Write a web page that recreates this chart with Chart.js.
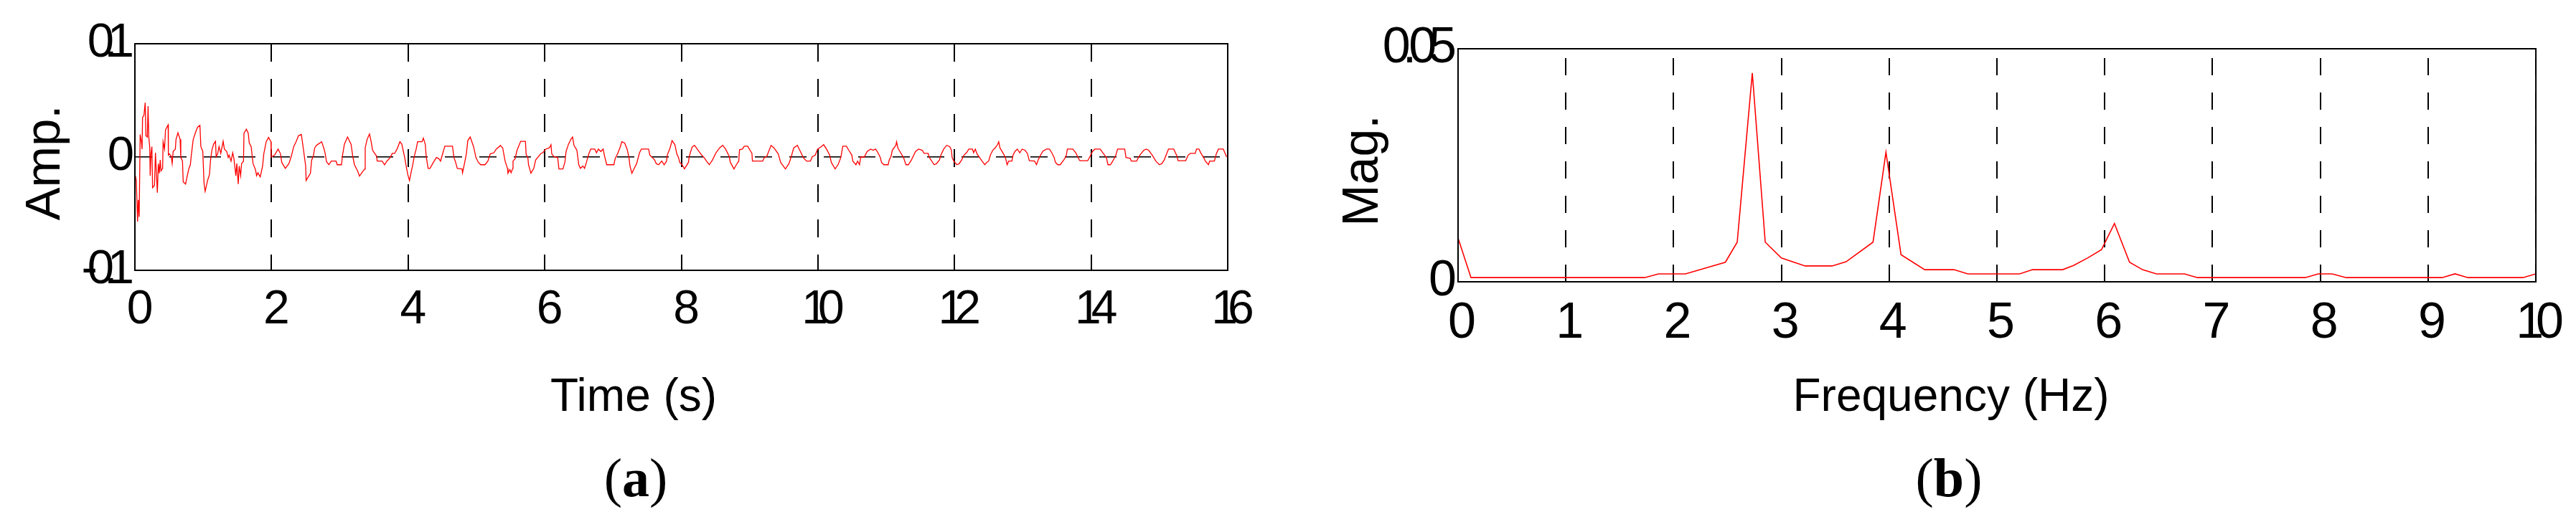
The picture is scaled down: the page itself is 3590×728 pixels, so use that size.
<!DOCTYPE html>
<html>
<head>
<meta charset="utf-8">
<script src="https://cdn.jsdelivr.net/npm/chart.js@4/dist/chart.umd.min.js"></script>
<style>
  html, body { margin: 0; padding: 0; background: #fff; overflow: hidden; }
  #wrap { position: relative; width: 3590px; height: 728px; }
  canvas { position: absolute; top: 0; }
  #chartA { left: 0; }
  #chartB { left: 1795px; }
</style>
</head>
<body>
<div id="wrap">
  <canvas id="chartA" width="1795" height="728"></canvas>
  <canvas id="chartB" width="1795" height="728"></canvas>
</div>
<script>
// (a) time response
const timeSec = [
  0.007, 0.021, 0.039, 0.049, 0.063, 0.077, 0.095, 0.105, 0.112, 0.133, 0.151, 0.161, 0.182, 0.193, 0.203, 0.217,
  0.224, 0.235, 0.249, 0.259, 0.287, 0.301, 0.315, 0.329, 0.343, 0.357, 0.371, 0.382, 0.406, 0.413, 0.434, 0.448,
  0.487, 0.490, 0.504, 0.532, 0.546, 0.560, 0.592, 0.602, 0.630, 0.662, 0.672, 0.697, 0.707, 0.742, 0.767, 0.791,
  0.812, 0.826, 0.854, 0.889, 0.917, 0.952, 0.966, 0.994, 1.012, 1.029, 1.064, 1.092, 1.106, 1.127, 1.152, 1.180,
  1.190, 1.211, 1.232, 1.257, 1.292, 1.310, 1.345, 1.366, 1.380, 1.408, 1.432, 1.450, 1.478, 1.492, 1.513, 1.527,
  1.548, 1.562, 1.590, 1.597, 1.632, 1.660, 1.674, 1.702, 1.730, 1.765, 1.782, 1.800, 1.835, 1.870, 1.887, 1.922,
  1.957, 1.992, 1.996, 2.045, 2.097, 2.132, 2.150, 2.202, 2.255, 2.290, 2.325, 2.360, 2.395, 2.437, 2.472, 2.500,
  2.507, 2.570, 2.588, 2.612, 2.633, 2.658, 2.682, 2.735, 2.770, 2.787, 2.805, 2.840, 2.875, 2.945, 2.962, 3.025,
  3.039, 3.067, 3.113, 3.165, 3.190, 3.214, 3.260, 3.288, 3.330, 3.365, 3.372, 3.400, 3.435, 3.459, 3.480, 3.540,
  3.547, 3.620, 3.655, 3.690, 3.739, 3.768, 3.803, 3.838, 3.880, 3.908, 3.950, 3.978, 3.995, 4.020, 4.048, 4.065,
  4.090, 4.118, 4.139, 4.205, 4.223, 4.251, 4.265, 4.293, 4.321, 4.370, 4.415, 4.450, 4.475, 4.503, 4.538, 4.650,
  4.671, 4.696, 4.720, 4.790, 4.797, 4.825, 4.853, 4.874, 4.909, 4.958, 4.993, 5.028, 5.063, 5.126, 5.168, 5.203,
  5.256, 5.291, 5.343, 5.350, 5.385, 5.420, 5.455, 5.462, 5.490, 5.508, 5.532, 5.536, 5.567, 5.595, 5.648, 5.718,
  5.728, 5.753, 5.763, 5.798, 5.840, 5.868, 5.910, 5.945, 5.973, 6.015, 6.068, 6.092, 6.103, 6.138, 6.190, 6.208,
  6.267, 6.295, 6.313, 6.348, 6.383, 6.408, 6.429, 6.471, 6.499, 6.523, 6.558, 6.583, 6.611, 6.646, 6.674, 6.733,
  6.758, 6.786, 6.821, 6.856, 6.873, 6.908, 7.013, 7.031, 7.066, 7.101, 7.129, 7.171, 7.206, 7.234, 7.248, 7.276,
  7.311, 7.346, 7.388, 7.416, 7.521, 7.539, 7.574, 7.609, 7.633, 7.668, 7.714, 7.749, 7.784, 7.794, 7.836, 7.864,
  7.906, 7.934, 7.959, 7.976, 8.011, 8.046, 8.105, 8.116, 8.158, 8.193, 8.246, 8.298, 8.333, 8.368, 8.410, 8.456,
  8.508, 8.561, 8.606, 8.648, 8.701, 8.718, 8.771, 8.806, 8.841, 8.852, 8.894, 8.922, 8.971, 9.006, 9.034, 9.041,
  9.191, 9.216, 9.251, 9.314, 9.356, 9.419, 9.454, 9.524, 9.576, 9.611, 9.646, 9.699, 9.734, 9.786, 9.832, 9.891,
  9.916, 9.961, 9.996, 10.049, 10.084, 10.126, 10.172, 10.196, 10.252, 10.294, 10.336, 10.364, 10.417, 10.452, 10.497, 10.511,
  10.557, 10.581, 10.609, 10.627, 10.679, 10.721, 10.774, 10.809, 10.844, 10.879, 10.914, 10.931, 10.966, 11.029, 11.043, 11.071,
  11.089, 11.141, 11.152, 11.170, 11.211, 11.253, 11.289, 11.324, 11.369, 11.404, 11.429, 11.474, 11.527, 11.555, 11.614, 11.632,
  11.702, 11.737, 11.779, 11.800, 11.842, 11.884, 11.930, 11.954, 11.965, 11.989, 12.034, 12.069, 12.104, 12.139, 12.175, 12.210,
  12.262, 12.280, 12.304, 12.332, 12.367, 12.402, 12.444, 12.472, 12.500, 12.525, 12.560, 12.595, 12.630, 12.647, 12.665, 12.717,
  12.745, 12.770, 12.794, 12.840, 12.857, 12.885, 12.920, 12.955, 12.990, 13.032, 13.067, 13.095, 13.172, 13.200, 13.225, 13.260,
  13.295, 13.347, 13.389, 13.424, 13.459, 13.477, 13.512, 13.547, 13.599, 13.634, 13.652, 13.732, 13.775, 13.827, 13.838, 13.950,
  13.985, 14.020, 14.055, 14.132, 14.177, 14.223, 14.247, 14.282, 14.317, 14.363, 14.387, 14.492, 14.510, 14.573, 14.587, 14.667,
  14.692, 14.727, 14.772, 14.807, 14.842, 14.895, 14.947, 15.000, 15.035, 15.070, 15.105, 15.133, 15.210, 15.238, 15.252, 15.273,
  15.385, 15.420, 15.455, 15.525, 15.543, 15.578, 15.613, 15.648, 15.672, 15.718, 15.735, 15.805, 15.833, 15.864, 15.934, 15.958,
  15.983
];
const amplitude = [
  -0.0165, -0.0207, -0.0570, -0.0378, -0.0528, 0.0199, 0.0135, 0.0070, 0.0348, 0.0370, 0.0480, 0.0188, 0.0177, 0.0450, 0.0177, 0.0092,
  -0.0165, 0.0028, 0.0092, -0.0270, -0.0250, 0.0038, -0.0143, -0.0314, -0.0058, -0.0143, -0.0026, -0.0122, -0.0100, 0.0135, 0.0070, 0.0240,
  0.0284, 0.0017, 0.0028, 0.0006, -0.0058, 0.0049, 0.0070, 0.0156, 0.0214, 0.0156, -0.0004, -0.0036, -0.0218, -0.0239, -0.0165, -0.0100,
  -0.0068, 0.0017, 0.0156, 0.0220, 0.0263, 0.0280, 0.0092, 0.0049, -0.0229, -0.0303, -0.0207, -0.0154, -0.0036, 0.0060, 0.0113, 0.0139,
  0.0002, 0.0028, 0.0092, 0.0032, 0.0139, 0.0070, 0.0049, -0.0004, 0.0017, -0.0036, 0.0038, -0.0015, -0.0165, -0.0058, -0.0239, -0.0079,
  -0.0165, -0.0058, -0.0036, 0.0209, 0.0246, 0.0209, 0.0124, 0.0092, -0.0058, -0.0111, -0.0165, -0.0139, -0.0175, -0.0079, 0.0028, 0.0135,
  0.0173, 0.0135, 0.0000, 0.0017, 0.0070, 0.0028, -0.0047, -0.0100, -0.0058, 0.0006, 0.0092, 0.0135, 0.0188, 0.0199, 0.0049, -0.0079,
  -0.0207, -0.0143, -0.0026, 0.0006, 0.0081, 0.0103, 0.0113, 0.0135, 0.0070, 0.0028, -0.0041, -0.0068, -0.0036, -0.0036, -0.0068, -0.0068,
  0.0011, 0.0113, 0.0177, 0.0113, 0.0006, -0.0068, -0.0122, -0.0169, -0.0132, -0.0105, 0.0081, 0.0156, 0.0203, 0.0135, 0.0060, 0.0006,
  -0.0036, -0.0036, -0.0068, -0.0036, -0.0004, 0.0032, 0.0032, 0.0070, 0.0135, 0.0113, -0.0004, -0.0100, -0.0154, -0.0207, -0.0122, -0.0079,
  0.0006, 0.0070, 0.0135, 0.0135, 0.0167, 0.0113, 0.0006, -0.0100, -0.0100, -0.0047, -0.0004, -0.0015, -0.0036, 0.0024, 0.0096, 0.0096,
  -0.0004, -0.0047, -0.0100, -0.0105, -0.0139, -0.0058, 0.0028, 0.0145, 0.0177, 0.0092, -0.0004, -0.0047, -0.0068, -0.0068, -0.0036, 0.0028,
  0.0038, 0.0070, 0.0096, 0.0103, 0.0081, -0.0036, -0.0100, -0.0143, -0.0111, -0.0139, -0.0100, -0.0036, -0.0015, 0.0060, 0.0139, 0.0139,
  0.0024, -0.0004, -0.0068, -0.0143, -0.0100, -0.0026, 0.0006, 0.0032, 0.0038, 0.0070, 0.0081, 0.0109, 0.0028, 0.0002, -0.0004, -0.0105,
  -0.0105, -0.0047, 0.0049, 0.0113, 0.0156, 0.0177, 0.0103, 0.0060, -0.0068, -0.0100, -0.0079, -0.0100, -0.0047, 0.0028, 0.0070, 0.0070,
  0.0038, 0.0070, 0.0049, 0.0070, 0.0017, -0.0068, -0.0068, -0.0015, 0.0028, 0.0081, 0.0135, 0.0124, 0.0070, -0.0004, -0.0079, -0.0143,
  -0.0100, -0.0058, 0.0038, 0.0070, 0.0070, 0.0017, -0.0004, -0.0026, -0.0058, -0.0068, -0.0036, -0.0068, -0.0036, 0.0017, 0.0081, 0.0145,
  0.0109, 0.0028, -0.0004, -0.0047, -0.0068, -0.0105, -0.0047, 0.0006, 0.0088, 0.0103, 0.0060, 0.0017, -0.0004, -0.0036, -0.0068, -0.0026,
  0.0038, 0.0081, 0.0103, 0.0070, 0.0006, -0.0047, -0.0105, -0.0068, -0.0036, 0.0064, 0.0070, 0.0096, 0.0096, 0.0060, 0.0032, -0.0036,
  -0.0036, -0.0004, 0.0006, 0.0103, 0.0081, 0.0028, -0.0047, -0.0105, -0.0058, 0.0006, 0.0081, 0.0103, 0.0060, -0.0004, -0.0036, -0.0036,
  0.0002, 0.0017, 0.0070, 0.0092, 0.0109, 0.0070, 0.0017, -0.0047, -0.0105, -0.0068, -0.0004, 0.0096, 0.0096, 0.0060, 0.0017, -0.0036,
  -0.0068, -0.0036, -0.0068, 0.0000, 0.0000, 0.0049, 0.0070, 0.0060, 0.0070, 0.0038, -0.0004, -0.0047, -0.0068, -0.0068, -0.0026, 0.0006,
  0.0060, 0.0103, 0.0135, 0.0081, 0.0038, -0.0004, -0.0068, -0.0068, -0.0026, 0.0017, 0.0049, 0.0070, 0.0060, 0.0032, 0.0032, -0.0004,
  -0.0068, -0.0058, -0.0026, 0.0017, 0.0070, 0.0103, 0.0092, 0.0060, -0.0004, -0.0036, -0.0068, -0.0058, -0.0026, 0.0017, 0.0038, 0.0070,
  0.0070, 0.0038, 0.0070, 0.0024, -0.0004, -0.0036, -0.0068, -0.0047, -0.0036, 0.0017, 0.0060, 0.0081, 0.0109, 0.0135, 0.0081, 0.0028,
  -0.0004, -0.0068, -0.0036, -0.0036, 0.0017, 0.0049, 0.0070, 0.0038, 0.0070, 0.0060, 0.0032, -0.0032, -0.0036, -0.0068, -0.0026, 0.0017,
  0.0053, 0.0070, 0.0070, 0.0038, -0.0004, -0.0047, -0.0068, -0.0068, -0.0026, 0.0006, 0.0070, 0.0070, 0.0038, -0.0026, -0.0032, -0.0032,
  0.0006, 0.0049, 0.0070, 0.0070, 0.0032, -0.0004, -0.0068, -0.0068, -0.0036, 0.0017, 0.0070, 0.0070, -0.0004, -0.0011, -0.0036, -0.0036,
  -0.0004, 0.0028, 0.0060, 0.0070, 0.0060, 0.0017, -0.0036, -0.0068, -0.0058, -0.0026, 0.0028, 0.0070, 0.0070, 0.0032, 0.0017, -0.0032,
  -0.0032, 0.0017, 0.0032, 0.0032, 0.0070, 0.0070, 0.0028, -0.0004, -0.0036, -0.0068, -0.0036, -0.0036, 0.0028, 0.0070, 0.0070, 0.0038,
  0.0000
];
const timeTicks = [0, 2, 4, 6, 8, 10, 12, 14, 16];
const ampTicks = [-0.1, 0, 0.1];

// (b) spectrum
const freqHz = [
  0, 0.12, 1.73, 1.86, 2.11, 2.48, 2.59, 2.73, 2.85, 3.0, 3.22, 3.47, 3.6, 3.85, 3.97, 4.11,
  4.33, 4.6, 4.73, 5.21, 5.33, 5.61, 5.71, 5.84, 5.97, 6.09, 6.23, 6.35, 6.48, 6.74, 6.86, 7.86,
  7.98, 8.11, 8.24, 9.13, 9.25, 9.37, 9.88, 10.0
];
const magnitude = [
  0.0094, 0.0009, 0.0009, 0.0017, 0.0017, 0.0042, 0.0085, 0.0448, 0.0085, 0.0051, 0.0034, 0.0034, 0.0043, 0.0085, 0.0278, 0.0058,
  0.0026, 0.0026, 0.0017, 0.0017, 0.0026, 0.0026, 0.0035, 0.0051, 0.0069, 0.0125, 0.0042, 0.0026, 0.0017, 0.0017, 0.0009, 0.0009,
  0.0017, 0.0017, 0.0009, 0.0009, 0.0017, 0.0009, 0.0009, 0.0017
];
const freqTicks = [0, 1, 2, 3, 4, 5, 6, 7, 8, 9, 10];
const magTicks = [0, 0.05];

const sans = '"Liberation Sans", Arial, sans-serif';
const serif = '"Liberation Serif", "Times New Roman", serif';

// frame, axis titles and panel tag; tick labels in the original are packed tight
const panelText = {
  id: 'panelText',
  beforeDraw(chart, args, o) {
    chart.ctx.letterSpacing = o.tickSpacing;
  },
  afterDraw(chart, args, o) {
    const ctx = chart.ctx;
    const a = chart.chartArea;
    ctx.save();
    ctx.letterSpacing = '0px';
    ctx.strokeStyle = '#000';
    ctx.lineWidth = o.frameWidth;
    ctx.strokeRect(a.left, a.top, a.right - a.left, a.bottom - a.top);

    ctx.fillStyle = '#000';
    ctx.textAlign = 'center';
    ctx.textBaseline = 'alphabetic';
    ctx.font = o.titleFont;
    ctx.fillText(o.xTitle, o.xTitleAt[0], o.xTitleAt[1]);

    ctx.save();
    ctx.translate(o.yTitleAt[0], o.yTitleAt[1]);
    ctx.rotate(-Math.PI / 2);
    ctx.font = o.yTitleFont;
    ctx.fillText(o.yTitle, 0, 0);
    ctx.restore();

    const parts = [['(', o.tagFont], [o.tag, o.tagBold], [')', o.tagFont]];
    let total = 0;
    const widths = parts.map(([s, f]) => {
      ctx.font = f;
      const w = ctx.measureText(s).width;
      total += w;
      return w;
    });
    let x = o.tagAt[0] - total / 2;
    ctx.textAlign = 'left';
    parts.forEach(([s, f], i) => {
      ctx.font = f;
      ctx.fillText(s, x, o.tagAt[1]);
      x += widths[i];
    });
    ctx.restore();
  }
};

function fixedTicks(list) {
  return scale => { scale.ticks = list.map(v => ({ value: v })); };
}

new Chart(document.getElementById('chartA'), {
  type: 'line',
  data: {
    datasets: [{
      data: timeSec.map((t, i) => ({ x: t, y: amplitude[i] })),
      borderColor: '#ff0000',
      borderWidth: 1.3,
      pointRadius: 0,
      tension: 0,
      fill: false
    }]
  },
  options: {
    responsive: false,
    animation: false,
    devicePixelRatio: 1,
    layout: { padding: { top: 61, right: 84, left: 0, bottom: 0 } },
    plugins: {
      legend: { display: false },
      tooltip: { enabled: false },
      panelText: {
        tickSpacing: '-14px',
        frameWidth: 2,
        titleFont: '64px ' + sans,
        xTitle: 'Time (s)',
        xTitleAt: [883, 573],
        yTitleFont: '69px ' + sans,
        yTitle: 'Amp.',
        yTitleAt: [83, 227],
        tagFont: '76px ' + serif,
        tagBold: 'bold 76px ' + serif,
        tag: 'a',
        tagAt: [886, 692]
      }
    },
    scales: {
      x: {
        type: 'linear',
        min: 0,
        max: 16,
        afterBuildTicks: fixedTicks(timeTicks),
        afterFit: s => { s.height = 351; },
        ticks: { font: { family: sans, size: 66 }, color: '#000', padding: 16, maxRotation: 0, autoSkip: false, callback: v => String(v) },
        grid: { color: '#000', lineWidth: 2, drawTicks: false },
        border: { display: false, dash: [25, 24] }
      },
      y: {
        type: 'linear',
        min: -0.1,
        max: 0.1,
        afterBuildTicks: fixedTicks(ampTicks),
        afterFit: s => { s.width = 188; },
        ticks: { font: { family: sans, size: 67 }, color: '#000', padding: 15, autoSkip: false, callback: v => String(v) },
        grid: { color: '#000', lineWidth: 1.6, drawTicks: false },
        border: { display: false, dash: [24, 24] }
      }
    }
  },
  plugins: [panelText]
});

new Chart(document.getElementById('chartB'), {
  type: 'line',
  data: {
    datasets: [{
      data: freqHz.map((f, i) => ({ x: f, y: magnitude[i] })),
      borderColor: '#ff0000',
      borderWidth: 1.6,
      pointRadius: 0,
      tension: 0,
      fill: false
    }]
  },
  options: {
    responsive: false,
    animation: false,
    devicePixelRatio: 1,
    layout: { padding: { top: 68, right: 42, left: 0, bottom: 0 } },
    plugins: {
      legend: { display: false },
      tooltip: { enabled: false },
      panelText: {
        tickSpacing: '-11px',
        frameWidth: 2,
        titleFont: '64px ' + sans,
        xTitle: 'Frequency (Hz)',
        xTitleAt: [924, 573],
        yTitleFont: '70px ' + sans,
        yTitle: 'Mag.',
        yTitleAt: [125, 238],
        tagFont: '76px ' + serif,
        tagBold: 'bold 76px ' + serif,
        tag: 'b',
        tagAt: [921, 692]
      }
    },
    scales: {
      x: {
        type: 'linear',
        min: 0,
        max: 10,
        afterBuildTicks: fixedTicks(freqTicks),
        afterFit: s => { s.height = 335; },
        ticks: { font: { family: sans, size: 70 }, color: '#000', padding: 17, maxRotation: 0, autoSkip: false, callback: v => String(v) },
        grid: { color: '#000', lineWidth: 2, drawTicks: false },
        border: { display: false, dash: [24, 24], dashOffset: 35 }
      },
      y: {
        type: 'linear',
        min: 0,
        max: 0.05,
        afterBuildTicks: fixedTicks(magTicks),
        afterFit: s => { s.width = 237; },
        ticks: { font: { family: sans, size: 70 }, color: '#000', padding: 13, autoSkip: false, callback: v => String(v) },
        grid: { display: false, drawTicks: false },
        border: { display: false }
      }
    }
  },
  plugins: [panelText]
});
</script>
</body>
</html>
